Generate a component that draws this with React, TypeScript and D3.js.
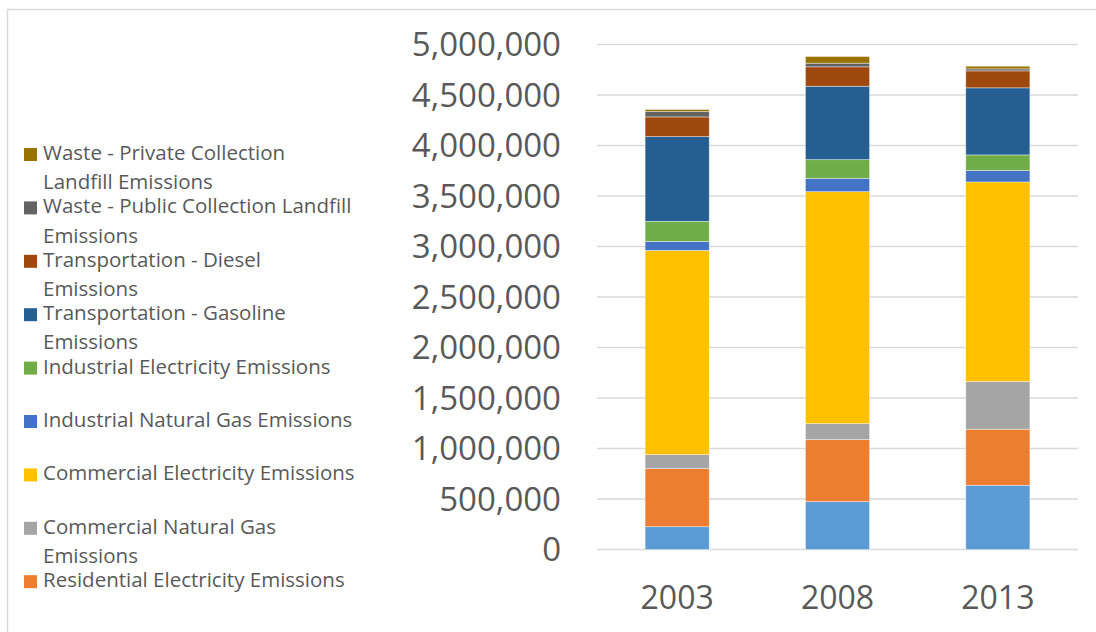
import * as d3 from 'd3';
import { useEffect, useRef } from 'react';

// categories
const years = ['2003', '2008', '2013'];

// series, bottom of the stack first
const seriesNames = [
    'Residential Natural Gas Emissions',
    'Residential Electricity Emissions',
    'Commercial Natural Gas Emissions',
    'Commercial Electricity Emissions',
    'Industrial Natural Gas Emissions',
    'Industrial Electricity Emissions',
    'Transportation - Gasoline Emissions',
    'Transportation - Diesel Emissions',
    'Waste - Public Collection Landfill Emissions',
    'Waste - Private Collection Landfill Emissions',
];

// legend lines as wrapped in the picture (same order as seriesNames)
const legendLines = [
    ['Residential Natural Gas Emissions'],
    ['Residential Electricity Emissions'],
    ['Commercial Natural Gas', 'Emissions'],
    ['Commercial Electricity Emissions'],
    ['Industrial Natural Gas Emissions'],
    ['Industrial Electricity Emissions'],
    ['Transportation - Gasoline', 'Emissions'],
    ['Transportation - Diesel', 'Emissions'],
    ['Waste - Public Collection Landfill', 'Emissions'],
    ['Waste - Private Collection', 'Landfill Emissions'],
];

const colors = [
    '#5b9bd5', '#ed7d31', '#a5a5a5', '#ffc000', '#4472c4',
    '#70ad47', '#255e91', '#9e480e', '#636363', '#997300',
];

// values per series, one per year
const resNatGas = [226000, 474000, 636000];
const resElec = [575000, 614000, 555000];
const comNatGas = [139000, 159000, 472000];
const comElec = [2021000, 2296000, 1976000];
const indNatGas = [89000, 132000, 115000];
const indElec = [199000, 185000, 153000];
const gasoline = [839000, 727000, 664000];
const diesel = [195000, 192000, 168000];
const wastePublic = [53000, 36000, 20000];
const wastePrivate = [20000, 66000, 26000];

const seriesValues = [
    resNatGas, resElec, comNatGas, comElec, indNatGas,
    indElec, gasoline, diesel, wastePublic, wastePrivate,
];

const yTicks = [0, 500000, 1000000, 1500000, 2000000, 2500000, 3000000, 3500000, 4000000, 4500000, 5000000];

export default function App() {
    const chartRef = useRef<SVGSVGElement | null>(null);

    useEffect(() => {
        if (!chartRef.current) return;
        const svg = d3.select(chartRef.current);
        svg.selectAll('*').remove();

        const width = 1096;
        const height = 632;
        const textColor = '#595959';
        const font = "'Open Sans', sans-serif";

        // chart area border (cropped on the right and bottom)
        svg.append('rect')
            .attr('x', 7.5)
            .attr('y', 9.5)
            .attr('width', width + 20)
            .attr('height', height + 20)
            .attr('fill', '#fff')
            .attr('stroke', '#d9d9d9')
            .attr('stroke-width', 1.5);

        const table = years.map((year, i) => {
            const row: Record<string, number | string> = { year };
            seriesNames.forEach((name, s) => (row[name] = seriesValues[s][i]));
            return row;
        });
        const stacked = d3.stack<Record<string, number | string>>().keys(seriesNames)(table as any);

        const x = d3
            .scaleBand()
            .domain(years)
            .range([597, 1078])
            .paddingInner(0.6)
            .paddingOuter(0.3);

        const y = d3.scaleLinear().domain([0, 5000000]).range([549.5, 44.5]);

        // gridlines
        svg.append('g')
            .selectAll('line')
            .data(yTicks)
            .join('line')
            .attr('x1', 597)
            .attr('x2', 1078)
            .attr('y1', (d) => y(d))
            .attr('y2', (d) => y(d))
            .attr('stroke', '#d9d9d9')
            .attr('stroke-width', 1.3);

        // y tick labels
        svg.append('g')
            .selectAll('text')
            .data(yTicks)
            .join('text')
            .attr('x', 561)
            .attr('y', (d) => y(d) + 11.5)
            .attr('text-anchor', 'end')
            .attr('font-family', font)
            .attr('font-size', 33)
            .attr('fill', textColor)
            .text((d) => d3.format(',')(d));

        // stacked bars
        svg.append('g')
            .selectAll('g')
            .data(stacked)
            .join('g')
            .attr('fill', (_, i) => colors[i])
            .selectAll('rect')
            .data((d) => d)
            .join('rect')
            .attr('x', (d) => x(d.data.year as string)!)
            .attr('width', x.bandwidth())
            .attr('y', (d) => y(d[1]))
            .attr('height', (d) => y(d[0]) - y(d[1]))
            .attr('stroke', '#ffffff')
            .attr('stroke-opacity', 0.5)
            .attr('stroke-width', 0.8);

        // x labels
        svg.append('g')
            .selectAll('text')
            .data(years)
            .join('text')
            .attr('x', (d) => x(d)! + x.bandwidth() / 2)
            .attr('y', 609)
            .attr('text-anchor', 'middle')
            .attr('font-family', font)
            .attr('font-size', 32)
            .attr('fill', textColor)
            .text((d) => d);

        // legend, top entry is the last series; entries that don't fit are dropped
        const rowStep = 53.4;
        const firstRow = 160;
        const legendOrder = d3
            .range(seriesNames.length)
            .reverse()
            .filter((_, i) => firstRow + i * rowStep + 8 < height);
        const legend = svg.append('g')
            .selectAll('g')
            .data(legendOrder)
            .join('g')
            .attr('transform', (_, i) => `translate(0,${firstRow + i * rowStep})`);

        legend.append('rect')
            .attr('x', 24)
            .attr('y', -12)
            .attr('width', 13)
            .attr('height', 13)
            .attr('fill', (d) => colors[d]);

        legend.append('text')
            .attr('font-family', font)
            .attr('font-size', 20.5)
            .attr('fill', textColor)
            .selectAll('tspan')
            .data((d) => legendLines[d])
            .join('tspan')
            .attr('x', 43)
            .attr('y', (_, j) => j * 29.3)
            .text((d) => d);
    }, []);

    return (
        <svg
            ref={chartRef}
            width={1096}
            height={632}
            style={{ position: 'absolute', left: 0, top: 0, background: '#fff' }}
        />
    );
}
